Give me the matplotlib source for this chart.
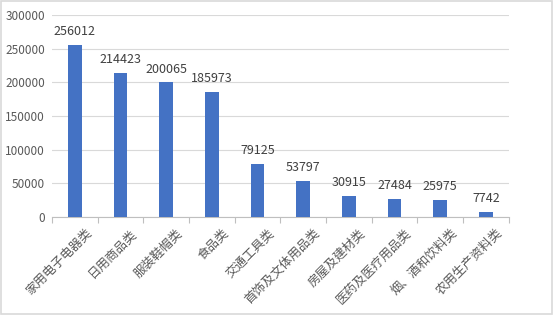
import matplotlib

matplotlib.use("Agg")
import matplotlib.pyplot as plt
from matplotlib.patches import Rectangle

plt.rcParams["font.family"] = ["Noto Sans CJK SC", "DejaVu Sans"]

categories = [
    "家用电子电器类", "日用商品类", "服装鞋帽类", "食品类", "交通工具类",
    "首饰及文体用品类", "房屋及建材类", "医药及医疗用品类", "烟、酒和饮料类", "农用生产资料类",
]
values = [256012, 214423, 200065, 185973, 79125, 53797, 30915, 27484, 25975, 7742]
y_ticks = [0, 50000, 100000, 150000, 200000, 250000, 300000]

text_color = "#595959"
bar_color = "#4472c4"

fig = plt.figure(figsize=(5.53, 3.15), dpi=100)
ax = fig.add_axes([0.094, 0.311, 0.826, 0.641])

x = list(range(len(categories)))
ax.bar(x, values, width=0.3, color=bar_color, zorder=3)
for xi, v in zip(x, values):
    ax.text(xi, v + 10000, str(v), ha="center", va="bottom", fontsize=9, color="#404040")

ax.set_xlim(-0.5, len(categories) - 0.5)
ax.set_ylim(0, 300000)
ax.set_yticks(y_ticks)
ax.set_yticklabels([str(t) for t in y_ticks], fontsize=8.5, color=text_color)
ax.grid(axis="y", color="#d9d9d9", linewidth=0.8, zorder=0)
for side in ("top", "right", "left"):
    ax.spines[side].set_visible(False)
ax.spines["bottom"].set_color("#bfbfbf")
ax.tick_params(axis="y", length=0, pad=5)

# category ticks sit on boundaries, labels on centres
ax.set_xticks([i - 0.5 for i in range(len(categories) + 1)])
ax.set_xticklabels([])
ax.tick_params(axis="x", length=4, color="#bfbfbf")
for xi, name in zip(x, categories):
    ax.text(xi + 0.22, -14000, name, rotation=45, ha="right", va="top",
            rotation_mode="anchor", fontsize=9, color=text_color)

fig.patches.append(Rectangle((0.002, 0.003), 0.996, 0.994, transform=fig.transFigure,
                             fill=False, edgecolor="#d9d9d9", linewidth=1.2))

fig.savefig("out.png", dpi=100)
